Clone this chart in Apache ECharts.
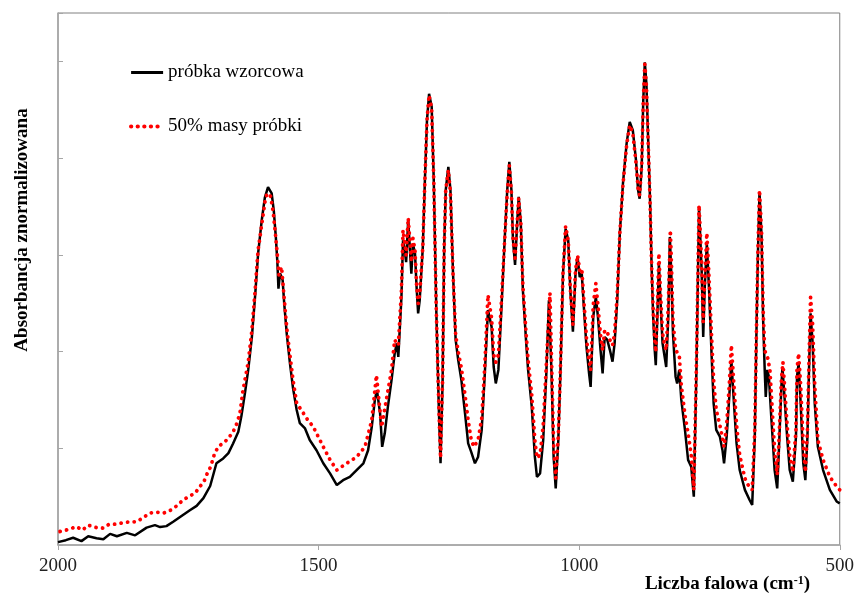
<!DOCTYPE html>
<html>
<head>
<meta charset="utf-8">
<script src="https://cdn.jsdelivr.net/npm/echarts@6/dist/echarts.min.js"></script>
<style>html,body{margin:0;padding:0;background:#fff;}#c{width:857px;height:594px;}</style>
</head>
<body>
<div id="c"></div>
<script>
const seriesNames = ['próbka wzorcowa', '50% masy próbki'];
const xTicks = [2000, 1500, 1000, 500];
const xTitle = 'Liczba falowa (cm';
const xTitleSup = '-1';
const yTitle = 'Absorbancja znormalizowana';

const refWn = [2000,1985,1971,1955,1942,1926,1913,1900,1887,1868,1852,1830,1814,1804,1792,1779,1763,1747,1734,1721,1708,1696,1683,1673,1664,1654,1648,1641,1635,1628,1622,1616,1609,1603,1597,1590,1586,1582,1579,1577,1574,1569,1566,1561,1555,1549,1542,1536,1526,1517,1504,1491,1478,1465,1453,1440,1427,1414,1405,1398,1392,1388,1382,1378,1373,1367,1360,1354,1350,1347,1344,1341,1338,1334,1332,1328,1325,1322,1319,1315,1312,1309,1306,1300,1296,1292,1288,1283,1279,1274,1269,1266,1262,1259,1256,1251,1247,1242,1237,1232,1226,1219,1213,1207,1200,1194,1187,1181,1175,1168,1164,1160,1155,1149,1143,1138,1134,1130,1127,1123,1119,1116,1112,1108,1102,1098,1091,1085,1081,1075,1069,1063,1058,1053,1049,1045,1040,1036,1031,1026,1021,1017,1012,1007,1003,999,995,991,986,981,978,973,968,964,959,955,951,946,941,936,932,927,922,916,909,903,897,891,887,884,880,877,874,871,868,864,861,858,855,853,850,847,844,840,836,833,829,826,823,820,815,812,808,804,797,791,785,780,775,770,765,762,759,755,751,746,742,737,730,725,722,717,712,708,703,698,692,682,673,668,663,660,657,654,650,647,644,642,639,636,631,625,620,617,612,610,606,601,596,590,584,582,579,575,570,566,562,559,556,552,548,542,532,519,506,500];
const refAbs = [0.006,0.010,0.015,0.008,0.018,0.014,0.012,0.023,0.018,0.025,0.020,0.036,0.041,0.037,0.039,0.048,0.060,0.072,0.081,0.097,0.122,0.169,0.179,0.190,0.210,0.234,0.267,0.316,0.362,0.430,0.512,0.603,0.672,0.719,0.740,0.727,0.692,0.636,0.583,0.530,0.562,0.548,0.500,0.436,0.376,0.324,0.279,0.252,0.241,0.217,0.196,0.169,0.148,0.124,0.134,0.141,0.155,0.169,0.196,0.244,0.300,0.320,0.272,0.203,0.231,0.286,0.341,0.396,0.417,0.389,0.451,0.513,0.630,0.603,0.585,0.672,0.616,0.561,0.623,0.603,0.534,0.479,0.506,0.616,0.754,0.878,0.933,0.906,0.754,0.479,0.272,0.169,0.341,0.616,0.734,0.782,0.734,0.561,0.424,0.382,0.341,0.272,0.210,0.192,0.169,0.182,0.238,0.355,0.486,0.451,0.368,0.334,0.362,0.492,0.630,0.734,0.792,0.734,0.630,0.579,0.665,0.720,0.665,0.527,0.424,0.362,0.286,0.182,0.141,0.148,0.217,0.355,0.506,0.355,0.182,0.117,0.217,0.355,0.561,0.654,0.630,0.527,0.441,0.561,0.596,0.554,0.561,0.492,0.410,0.355,0.327,0.472,0.513,0.472,0.403,0.355,0.430,0.424,0.403,0.379,0.417,0.506,0.644,0.747,0.830,0.875,0.857,0.796,0.734,0.716,0.782,0.919,0.998,0.954,0.851,0.713,0.575,0.472,0.403,0.372,0.472,0.582,0.506,0.417,0.389,0.368,0.472,0.637,0.554,0.437,0.348,0.334,0.362,0.300,0.238,0.176,0.162,0.100,0.362,0.699,0.568,0.430,0.534,0.623,0.534,0.396,0.293,0.238,0.224,0.196,0.169,0.224,0.306,0.382,0.293,0.210,0.155,0.114,0.093,0.083,0.224,0.430,0.603,0.730,0.637,0.465,0.362,0.306,0.362,0.348,0.258,0.155,0.117,0.190,0.327,0.368,0.306,0.224,0.155,0.131,0.224,0.348,0.375,0.293,0.169,0.134,0.224,0.362,0.479,0.417,0.293,0.203,0.155,0.114,0.090,0.086];

const halfWn = [1996,1980,1965,1953,1942,1926,1913,1902,1889,1875,1862,1849,1836,1824,1811,1797,1784,1772,1760,1748,1737,1729,1720,1714,1707,1699,1691,1682,1673,1664,1657,1651,1645,1635,1628,1622,1616,1609,1603,1599,1592,1587,1582,1578,1576,1571,1566,1561,1555,1549,1542,1533,1523,1510,1491,1478,1465,1446,1427,1411,1398,1389,1379,1370,1360,1354,1347,1341,1338,1334,1332,1328,1325,1322,1319,1315,1312,1309,1306,1300,1296,1292,1288,1283,1279,1274,1269,1266,1262,1259,1256,1251,1247,1242,1237,1232,1226,1219,1213,1207,1202,1194,1187,1181,1175,1168,1164,1160,1155,1149,1143,1138,1134,1130,1127,1123,1119,1116,1112,1108,1102,1098,1091,1085,1081,1075,1069,1063,1056,1053,1049,1045,1040,1036,1031,1026,1021,1017,1012,1007,1003,999,995,991,986,981,978,973,968,964,959,955,951,946,941,936,932,927,922,916,909,903,897,891,887,884,880,877,874,871,868,864,861,858,855,853,850,847,844,840,836,833,829,825,823,820,815,812,808,804,797,791,785,780,775,770,765,762,759,755,751,746,742,737,730,725,722,717,712,708,703,698,692,682,673,668,663,660,657,654,650,647,644,641,638,634,630,625,620,617,612,609,606,601,596,590,584,582,579,575,570,566,562,559,556,552,548,542,532,519,506,500];
const halfAbs = [0.028,0.032,0.038,0.031,0.041,0.036,0.035,0.043,0.043,0.046,0.048,0.048,0.057,0.066,0.068,0.066,0.072,0.081,0.093,0.101,0.107,0.119,0.131,0.147,0.162,0.191,0.205,0.211,0.221,0.234,0.251,0.272,0.320,0.378,0.444,0.523,0.610,0.663,0.709,0.727,0.721,0.688,0.634,0.585,0.558,0.575,0.510,0.448,0.393,0.341,0.293,0.279,0.262,0.244,0.203,0.176,0.155,0.169,0.182,0.203,0.258,0.351,0.244,0.300,0.362,0.424,0.413,0.527,0.651,0.620,0.599,0.676,0.630,0.585,0.634,0.610,0.539,0.499,0.517,0.616,0.754,0.878,0.930,0.903,0.754,0.479,0.279,0.180,0.345,0.616,0.734,0.775,0.729,0.561,0.434,0.399,0.366,0.310,0.258,0.217,0.203,0.217,0.262,0.372,0.517,0.469,0.393,0.378,0.393,0.506,0.630,0.729,0.785,0.729,0.634,0.593,0.667,0.717,0.667,0.537,0.440,0.382,0.310,0.217,0.180,0.186,0.248,0.372,0.521,0.382,0.207,0.138,0.227,0.362,0.562,0.659,0.630,0.531,0.455,0.568,0.599,0.568,0.572,0.506,0.428,0.382,0.362,0.496,0.541,0.496,0.434,0.403,0.444,0.440,0.424,0.413,0.438,0.517,0.645,0.744,0.826,0.868,0.851,0.791,0.738,0.723,0.785,0.919,0.994,0.950,0.847,0.713,0.579,0.486,0.424,0.399,0.486,0.603,0.523,0.438,0.413,0.403,0.496,0.651,0.585,0.465,0.403,0.399,0.393,0.331,0.269,0.231,0.186,0.114,0.372,0.703,0.585,0.461,0.548,0.645,0.558,0.434,0.341,0.279,0.248,0.221,0.203,0.248,0.331,0.413,0.331,0.248,0.186,0.138,0.118,0.114,0.238,0.434,0.610,0.734,0.647,0.486,0.403,0.393,0.386,0.362,0.289,0.196,0.145,0.207,0.341,0.378,0.331,0.248,0.186,0.151,0.238,0.362,0.396,0.331,0.207,0.151,0.238,0.382,0.512,0.455,0.331,0.217,0.176,0.141,0.121,0.114];

const zip = (a, b) => a.map((v, i) => [v, b[i]]);
const serif = "'Liberation Serif', 'Times New Roman', serif";
const fs = 19;

const chart = echarts.init(document.getElementById('c'), null, {renderer: 'canvas'});
chart.setOption({
  animation: false,
  backgroundColor: '#fff',
  grid: {left: 58, right: 17, top: 13, bottom: 49, show: true, borderColor: '#808080', borderWidth: 1},
  legend: {
    orient: 'vertical', left: 124, top: 58,
    itemWidth: 32, itemHeight: 14, itemGap: 35,
    itemStyle: {opacity: 0},
    textStyle: {fontFamily: serif, fontSize: fs, color: '#000'},
    data: [
      {name: seriesNames[0], lineStyle: {width: 3}},
      {name: seriesNames[1], lineStyle: {width: 4.2, type: [0.1, 6.5], cap: 'round'}}
    ]
  },
  xAxis: {
    type: 'value', inverse: true, min: 500, max: 2000, interval: 500,
    axisLine: {show: true, onZero: false, lineStyle: {color: '#a6a6a6', width: 1.5}},
    axisTick: {show: true, inside: false, length: 5, lineStyle: {color: '#a6a6a6'}},
    axisLabel: {fontFamily: serif, fontSize: fs, color: '#222', margin: 12,
      formatter: v => xTicks.indexOf(v) >= 0 ? String(v) : ''},
    splitLine: {show: false}
  },
  yAxis: {
    type: 'value', min: 0, max: 1.1, interval: 0.2,
    axisLine: {show: true, lineStyle: {color: '#a6a6a6', width: 1.5}},
    axisTick: {show: true, inside: true, length: 5, lineStyle: {color: '#a6a6a6'}},
    axisLabel: {show: false},
    splitLine: {show: false}
  },
  graphic: [
    {type: 'text', x: 22, y: 230, rotation: Math.PI / 2,
      style: {text: yTitle, fontFamily: serif, fontSize: fs, fontWeight: 'bold', fill: '#000',
        align: 'center', verticalAlign: 'middle'}},
    {type: 'text', x: 810, y: 584,
      style: {text: '{a|' + xTitle + '}{s|' + xTitleSup + '}{a|)}',
        align: 'right', verticalAlign: 'middle',
        rich: {a: {fontFamily: serif, fontSize: fs, fontWeight: 'bold', color: '#000'},
               s: {fontFamily: serif, fontSize: 12, fontWeight: 'bold', color: '#000', verticalAlign: 'top', padding: [0,0,7,0]}}}}
  ],
  series: [
    {name: seriesNames[0], type: 'line', data: zip(refWn, refAbs), showSymbol: false, symbol: 'none',
      lineStyle: {color: '#000', width: 2.5}, itemStyle: {color: '#000'}, z: 2},
    {name: seriesNames[1], type: 'line', data: zip(halfWn, halfAbs), showSymbol: false, symbol: 'none',
      lineStyle: {color: '#ff0000', width: 3.8, type: [0.1, 6.5], cap: 'round'}, itemStyle: {color: '#ff0000'}, z: 3}
  ]
});
</script>
</body>
</html>
